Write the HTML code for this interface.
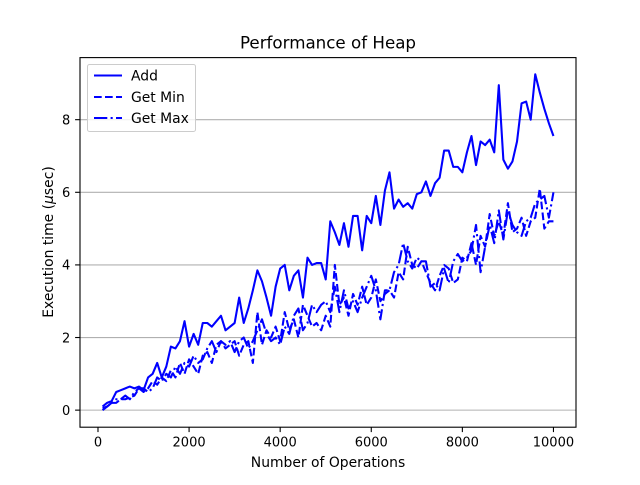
<!DOCTYPE html>
<html><head><meta charset="utf-8"><style>
html,body{margin:0;padding:0;background:#fff;}
svg text{font-family:"DejaVu Sans","Liberation Sans",sans-serif;fill:#000;}
</style></head><body>
<svg id="chart" width="640" height="480" xmlns="http://www.w3.org/2000/svg">
<rect width="640" height="480" fill="#fff"/>
<g id="grid"></g>
<g id="series"></g>
<rect x="80" y="57.6" width="496" height="369.6" fill="none" stroke="#000" stroke-width="1.1"/>
<g id="ticks"></g>
<text x="328" y="48.5" font-size="16.7" text-anchor="middle">Performance of Heap</text>
<text x="328" y="467" font-size="13.9" text-anchor="middle">Number of Operations</text>
<text transform="translate(53,242) rotate(-90)" font-size="13.9" text-anchor="middle">Execution time (<tspan font-style="italic">μ</tspan>sec)</text>
<g>
<rect x="87.5" y="64.5" width="108" height="67" rx="2" fill="#fff" fill-opacity="0.8" stroke="#ccc"/>
<g><line x1="94" y1="75.5" x2="122" y2="75.5" stroke="#00f" stroke-width="2.08"/><text x="131" y="80.5" font-size="13.9">Add</text></g>
<g><line x1="94" y1="97" x2="122" y2="97" stroke="#00f" stroke-width="2.08" stroke-dasharray="7.7,3.3"/><text x="131" y="102" font-size="13.9">Get Min</text></g>
<g><line x1="94" y1="118" x2="122" y2="118" stroke="#00f" stroke-width="2.08" stroke-dasharray="13.3,3.3,2.1,3.3"/><text x="131" y="123" font-size="13.9">Get Max</text></g>
</g>
</svg>
<script>
const xTicks=[0,2000,4000,6000,8000,10000];
const yTicks=[0,2,4,6,8];
const addVals=[0.1,0.2,0.25,0.5,0.55,0.6,0.65,0.6,0.65,0.55,
0.9,1.0,1.3,0.9,1.2,1.75,1.7,1.9,2.45,1.75,
2.1,1.8,2.4,2.4,2.3,2.45,2.6,2.2,2.3,2.4,
3.1,2.4,2.8,3.3,3.85,3.55,3.1,2.6,3.4,3.9,
4.0,3.3,3.7,3.85,3.1,4.2,4.0,4.05,4.05,3.6,
5.2,4.9,4.55,5.15,4.5,5.35,5.35,4.4,5.35,5.15,
5.9,5.1,6.05,6.55,5.55,5.8,5.6,5.7,5.55,5.95,
6.0,6.3,5.9,6.25,6.4,7.15,7.15,6.7,6.7,6.55,
7.1,7.55,6.75,7.4,7.3,7.45,7.1,8.95,6.9,6.65,
6.85,7.4,8.45,8.5,8.0,9.25,8.75,8.3,7.9,7.55];
const minVals=[0.05,0.1,0.2,0.2,0.3,0.3,0.35,0.4,0.6,0.5,
0.6,0.8,0.7,0.9,0.8,1.1,0.9,1.3,1.0,1.4,
1.2,1.0,1.5,1.6,1.3,1.8,1.9,1.7,1.8,1.9,
1.5,1.8,1.9,1.3,2.7,1.8,2.2,2.0,2.3,1.9,
2.7,2.2,2.5,2.0,2.9,2.6,2.3,2.4,2.2,2.6,
2.3,4.0,2.9,3.1,2.6,3.2,2.9,3.4,2.9,3.1,
3.6,3.0,3.2,3.3,3.1,3.8,3.6,4.5,4.0,3.9,
4.1,3.8,3.5,3.3,3.7,4.0,3.9,3.5,3.6,4.2,
4.1,4.6,4.0,4.8,4.5,5.4,4.8,5.2,4.8,5.7,
4.9,5.0,5.3,4.8,5.2,5.3,6.1,5.0,5.2,5.2];
const maxVals=[0.0,0.1,0.2,0.3,0.3,0.4,0.3,0.5,0.6,0.6,
0.5,0.6,0.9,0.8,1.0,0.9,1.2,1.0,1.3,1.2,
1.5,1.3,1.4,1.7,1.9,1.6,1.9,1.8,1.9,1.6,
1.9,2.0,1.7,1.9,2.2,2.5,2.1,1.9,2.0,1.8,
2.3,2.1,2.6,2.8,2.2,2.4,2.9,2.7,2.9,3.0,
2.7,3.4,2.7,3.3,2.8,3.0,2.7,3.1,3.4,3.7,
3.3,2.5,3.3,3.3,3.8,4.0,4.6,4.1,3.9,4.2,
4.1,4.1,3.4,3.5,3.3,3.9,3.5,4.1,4.3,4.1,
4.2,4.4,5.1,3.8,4.5,5.1,4.6,5.5,4.7,5.5,
5.1,4.9,4.8,5.2,5.3,5.7,5.8,5.9,5.3,6.0];
const xStart=100, xStep=100;

const L=80,R=576,T=57.6,B=427.2;
const xmin=-395,xmax=10495,ymin=-0.47,ymax=9.71;
function sx(v){return L+(v-xmin)/(xmax-xmin)*(R-L);}
function sy(v){return B-(v-ymin)/(ymax-ymin)*(B-T);}
const NS='http://www.w3.org/2000/svg';
function mk(tag,attrs,parent){const e=document.createElementNS(NS,tag);for(const k in attrs)e.setAttribute(k,attrs[k]);parent.appendChild(e);return e;}
const grid=document.getElementById('grid'),ticks=document.getElementById('ticks'),series=document.getElementById('series');
yTicks.forEach(v=>{
  const y=sy(v);
  const g=mk('line',{x1:L,x2:R,y1:y,y2:y,stroke:'#b0b0b0','stroke-width':1.1},grid);
  
  
  const t=mk('line',{x1:L-4.9,x2:L,y1:y,y2:y,stroke:'#000','stroke-width':1.1},ticks);
  
  
  const tx=mk('text',{x:L-9.7,y:y+4.8,'font-size':13,'text-anchor':'end'},ticks);
  tx.textContent=String(v);
  
  
});
xTicks.forEach(v=>{
  const x=sx(v);
  const t=mk('line',{x1:x,x2:x,y1:B,y2:B+4.9,stroke:'#000','stroke-width':1.1},ticks);
  
  
  const tx=mk('text',{x:x,y:B+19.5,'font-size':13,'text-anchor':'middle'},ticks);
  tx.textContent=String(v);
  
  
});
function drawLine(vals,dash,name){
  const d=vals.map((v,i)=>(i?'L':'M')+sx(xStart+i*xStep).toFixed(2)+','+sy(v).toFixed(2)).join(' ');
  const p=mk('path',{d:d,fill:'none',stroke:'#00f','stroke-width':2.08,'stroke-linejoin':'round'},series);
  if(dash)p.setAttribute('stroke-dasharray',dash);
  
  
}
drawLine(addVals,null,'add-line');
drawLine(minVals,'7.7,3.3','get-min-line');
drawLine(maxVals,'13.3,3.3,2.1,3.3','get-max-line');
</script>
</body></html>
